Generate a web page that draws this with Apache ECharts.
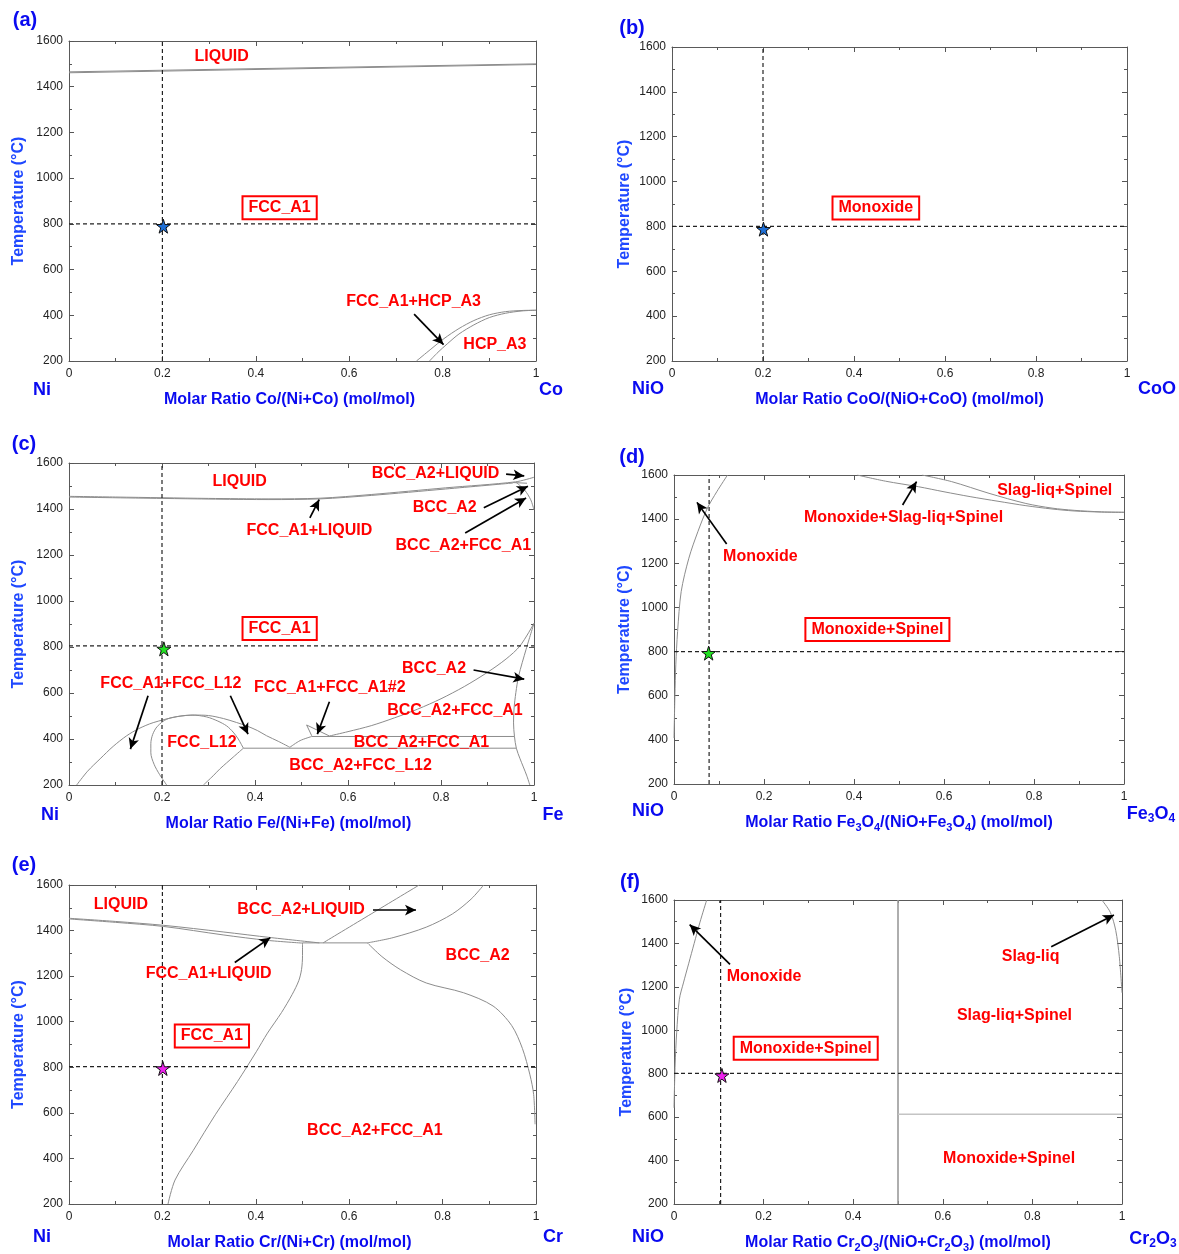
<!DOCTYPE html>
<html><head><meta charset="utf-8">
<script src="https://cdn.jsdelivr.net/npm/echarts@6/dist/echarts.min.js"></script>
<style>html,body{margin:0;padding:0;background:#fff}#chart{width:1179px;height:1254px}</style>
</head><body><div id="chart"></div>
<script>
// ---------------- DATA ----------------
const xTickStep = 0.2;
const tempMin = 200, tempMax = 1600, tempStep = 200;

// (a) Ni-Co
const aLiquidus = [[0,1465],[1,1500]];
const aSolidus = [[0,1461],[1,1497]];
const aHcpUpper = [[0.744,200],[0.775,252],[0.803,298],[0.835,342],[0.867,377],[0.9,402],[0.935,416],[0.97,421],[1,422]];
const aHcpLower = [[0.772,200],[0.79,238],[0.81,275],[0.835,318],[0.867,358],[0.9,390],[0.935,409],[0.97,419],[1,422]];
const aLabels = [['LIQUID',0.327,1530],['FCC_A1+HCP_A3',0.738,462],['HCP_A3',0.912,270]];
const aBoxed = [['FCC_A1',0.451,870]];
const aArrows = [[0.739,405,0.802,272]];
const aStar = [0.202,790];
const aCross = [0.2,800];

// (b) NiO-CoO
const bLabels = [];
const bBoxed = [['Monoxide',0.448,882]];
const bArrows = [];
const bStar = [0.201,788];
const bCross = [0.2,800];

// (c) Ni-Fe
const cLiquidus = [[0,1455],[0.1,1452],[0.2,1449],[0.3,1446],[0.43,1444],[0.54,1447],[0.65,1463],[0.81,1492],[0.96,1518],[1,1538]];
const cSolidus = [[0,1452],[0.2,1446],[0.43,1441],[0.54,1444],[0.65,1459],[0.81,1487],[0.955,1513]];
const cPeritectic = [[0.955,1515],[0.985,1512]];
const cDelta = [[0.962,1515],[0.98,1482],[0.993,1440],[1,1396]];
const cAlphaOuter = [[0.56,413],[0.60,432],[0.65,458],[0.70,492],[0.75,530],[0.80,575],[0.85,628],[0.90,690],[0.94,748],[0.97,805],[1,903]];
const cAlphaInner = [[1,903],[0.983,790],[0.967,674],[0.961,602],[0.957,530],[0.956,470],[0.958,411],[0.962,360],[0.97,314],[0.984,243],[0.991,200]];
const cUpperTie = [[0.522,411],[0.958,411]];
const cLowerTie = [[0.375,360],[0.962,360]];
const cDomeOuter = [[0.0165,200],[0.04,260],[0.067,314],[0.095,368],[0.124,414],[0.15,445],[0.181,471],[0.232,497],[0.27,504],[0.3,502],[0.332,489],[0.36,472],[0.382,457],[0.405,437],[0.425,414],[0.45,390],[0.475,364]];
const cDomeInner = [[0.21,200],[0.195,245],[0.183,290],[0.176,340],[0.176,380],[0.18,420],[0.19,455],[0.21,486],[0.24,500],[0.265,504],[0.296,496],[0.32,478],[0.339,457],[0.353,430],[0.364,400],[0.375,360]];
const cL12Lower = [[0.289,200],[0.31,240],[0.325,271],[0.353,321],[0.375,360]];
const cFccRise = [[0.475,364],[0.497,393],[0.522,411]];
const cLens = [[0.522,414],[0.511,461],[0.56,413]];
const cLabels = [
  ['LIQUID',0.367,1518],['BCC_A2+LIQUID',0.788,1553],['BCC_A2',0.808,1405],
  ['FCC_A1+LIQUID',0.517,1308],['BCC_A2+FCC_A1',0.848,1243],['BCC_A2',0.785,706],
  ['FCC_A1+FCC_L12',0.219,640],['FCC_A1+FCC_A1#2',0.561,625],['BCC_A2+FCC_A1',0.83,525],
  ['FCC_L12',0.286,385],['BCC_A2+FCC_A1',0.758,385],['BCC_A2+FCC_L12',0.627,285]];
const cBoxed = [['FCC_A1',0.453,880]];
const cArrows = [[0.94,1552,0.979,1544],[0.892,1405,0.987,1499],[0.852,1296,0.983,1448],[0.518,1361,0.538,1441],
  [0.870,700,0.979,660],[0.170,588,0.132,356],[0.347,588,0.385,421],[0.560,562,0.534,421]];
const cStar = [0.204,792];
const cCross = [0.2,805];

// (d) NiO-Fe3O4
const dMonoxide = [[0,408],[0.002,600],[0.004,740],[0.008,891],[0.016,1072],[0.033,1223],[0.053,1343],[0.074,1449],[0.095,1524],[0.119,1600]];
const dSolidus = [[0.407,1600],[0.47,1572],[0.543,1547],[0.6,1524],[0.658,1502],[0.72,1481],[0.782,1461],[0.84,1446],[0.889,1437],[0.95,1432],[1,1431]];
const dLiquidus = [[0.551,1600],[0.617,1570],[0.7,1517],[0.782,1471],[0.84,1450],[0.889,1440],[0.95,1433],[1,1431]];
const dLabels = [['Slag-liq+Spinel',0.846,1530],['Monoxide+Slag-liq+Spinel',0.51,1406],['Monoxide',0.192,1232]];
const dBoxed = [['Monoxide+Spinel',0.452,900]];
const dArrows = [[0.508,1464,0.539,1570],[0.117,1287,0.051,1476]];
const dStar = [0.077,793];
const dCross = [0.078,800];

// (e) Ni-Cr
const eLiquidus = [[0,1454],[0.1,1440],[0.203,1423],[0.33,1394],[0.433,1369],[0.536,1346]];
const eSolidus = [[0,1451],[0.1,1436],[0.203,1418],[0.33,1381],[0.425,1357],[0.5,1345]];
const eEutectic = [[0.5,1346],[0.639,1346]];
const eFccSolvus = [[0.5,1346],[0.5,1290],[0.498,1230],[0.492,1180],[0.478,1120],[0.455,1040],[0.425,950],[0.401,868],[0.361,738],[0.314,594],[0.266,435],[0.227,305],[0.212,200]];
const eBccLiqA = [[0.544,1346],[0.647,1473],[0.75,1600]];
const eBccLiqB = [[0.639,1346],[0.694,1369],[0.765,1415],[0.821,1473],[0.861,1538],[0.888,1600]];
const eBccSolvus = [[0.639,1346],[0.67,1286],[0.71,1228],[0.765,1170],[0.845,1127],[0.908,1069],[0.948,983],[0.971,882],[0.987,767],[0.995,680],[0.998,550]];
const eLabels = [['LIQUID',0.111,1515],['BCC_A2+LIQUID',0.497,1493],['FCC_A1+LIQUID',0.299,1212],['BCC_A2',0.875,1290],['BCC_A2+FCC_A1',0.655,522]];
const eBoxed = [['FCC_A1',0.306,937]];
const eArrows = [[0.651,1490,0.743,1490],[0.355,1260,0.431,1369]];
const eStar = [0.201,795];
const eCross = [0.2,803];

// (f) NiO-Cr2O3
const fMonoxide = [[0,643],[0.0025,840],[0.006,991],[0.012,1143],[0.021,1218],[0.033,1309],[0.045,1400],[0.058,1498],[0.073,1600]];
const fDivide = [[0.5,200],[0.5,1600]];
const fTie = [[0.5,613],[1,613]];
const fSlag = [[0.955,1600],[0.974,1543],[0.986,1460],[0.994,1339],[1,1173]];
const fLabels = [['Slag-liq',0.796,1339],['Monoxide',0.201,1246],['Slag-liq+Spinel',0.76,1066],['Monoxide+Spinel',0.748,408]];
const fBoxed = [['Monoxide+Spinel',0.294,917]];
const fArrows = [[0.842,1385,0.982,1531],[0.125,1304,0.035,1487]];
const fStar = [0.107,792];
const fCross = [0.104,802];

// ---------------- STYLE / LAYOUT ----------------
const FONT = 'Arial, "Liberation Sans", Helvetica, sans-serif';
const BLUE = '#0a0af0';
const BLUE2 = '#1f48ff';
const RED = '#ff0000';
const CURVE = '#8c8c8c';
const STAR = 'path://M50,0 L61,35 L98,35 L68,57 L79,91 L50,70 L21,91 L32,57 L2,35 L39,35 Z';
const SUB = {fontSize:11, lineHeight:11, verticalAlign:'bottom', fontWeight:'bold', color:BLUE, fontFamily:FONT};

const panels = [
  {grid:{left:69,top:41,width:467,height:320}, xName:'Molar Ratio Co/(Ni+Co) (mol/mol)', shift:26, yGap:42,
   curves:[[aLiquidus,0],[aSolidus,0],[aHcpUpper,0.3],[aHcpLower,0.3]],
   labels:aLabels, boxed:aBoxed, arrows:aArrows, star:aStar, starColor:'#1f6fd6', cross:aCross},
  {grid:{left:672,top:47,width:455,height:314}, xName:'Molar Ratio CoO/(NiO+CoO) (mol/mol)', shift:0, yGap:39,
   curves:[], labels:bLabels, boxed:bBoxed, arrows:bArrows, star:bStar, starColor:'#1f6fd6', cross:bCross},
  {grid:{left:69,top:463,width:465,height:322}, xName:'Molar Ratio Fe/(Ni+Fe) (mol/mol)', shift:26, yGap:42,
   curves:[[cLiquidus,0.3],[cSolidus,0.3],[cPeritectic,0],[cDelta,0.3],[cAlphaOuter,0.3],[cAlphaInner,0.3],[cUpperTie,0],[cLowerTie,0],
           [cDomeOuter,0.3],[cDomeInner,0.3],[cL12Lower,0.3],[cFccRise,0.3],[cLens,0]],
   labels:cLabels, boxed:cBoxed, arrows:cArrows, star:cStar, starColor:'#22e022', cross:cCross},
  {grid:{left:674,top:475,width:450,height:309}, xName:'Molar Ratio Fe{s|3}O{s|4}/(NiO+Fe{s|3}O{s|4}) (mol/mol)', shift:0, yGap:41,
   curves:[[dMonoxide,0.3],[dSolidus,0.3],[dLiquidus,0.3]],
   labels:dLabels, boxed:dBoxed, arrows:dArrows, star:dStar, starColor:'#22e022', cross:dCross},
  {grid:{left:69,top:885,width:467,height:323}, xName:'Molar Ratio Cr/(Ni+Cr) (mol/mol)', shift:26, yGap:42,
   curves:[[eLiquidus,0.3],[eSolidus,0.3],[eEutectic,0],[eFccSolvus,0.3],[eBccLiqA,0.3],[eBccLiqB,0.3],[eBccSolvus,0.3]],
   labels:eLabels, boxed:eBoxed, arrows:eArrows, star:eStar, starColor:'#ee22ee', cross:eCross},
  {grid:{left:674,top:900,width:448,height:306}, xName:'Molar Ratio Cr{s|2}O{s|3}/(NiO+Cr{s|2}O{s|3}) (mol/mol)', shift:0, yGap:39,
   curves:[[fMonoxide,0.3],[fSlag,0.3]], special:[[fDivide,'#9a9a9a',1.6],[fTie,'#c4c4c4',1.6]],
   labels:fLabels, boxed:fBoxed, arrows:fArrows, star:fStar, starColor:'#ee22ee', cross:fCross}
];

const texts = [
  ['(a)',25,20,20],['(b)',632,28,20],['(c)',24,444,20],['(d)',632,457,20],['(e)',24,865,20],['(f)',630,882,20],
  ['Ni',42,390,18],['Co',551,390,18],['NiO',648,389,18],['CoO',1157,389,18],
  ['Ni',50,815,18],['Fe',553,815,18],['NiO',648,811,18],['Fe{s|3}O{s|4}',1151,814,18],
  ['Ni',42,1237,18],['Cr',553,1237,18],['NiO',648,1237,18],['Cr{s|2}O{s|3}',1153,1239,18]
];

// ---------------- BUILD ----------------
const grid = [], xAxis = [], yAxis = [], series = [];
const axisLineStyle = {color:'#5a5a5a', width:1};
const tickStyle = {color:'#555', width:1};

panels.forEach((P, i) => {
  grid.push(Object.assign({containLabel:false}, P.grid));
  const baseX = {type:'value', gridIndex:i, min:0, max:1, interval:xTickStep,
    axisLine:{show:true, onZero:false, lineStyle:axisLineStyle},
    axisTick:{show:true, inside:true, length:5, lineStyle:tickStyle},
    minorTick:{show:true, splitNumber:2, length:3, lineStyle:tickStyle},
    splitLine:{show:false}, minorSplitLine:{show:false}};
  xAxis.push(Object.assign({}, baseX, {position:'bottom',
    axisLabel:{show:true, fontSize:12, color:'#222', margin:7, fontFamily:FONT, formatter:v => String(+v.toFixed(1))},
    name:P.xName, nameLocation:'middle', nameGap:29,
    nameTextStyle:{fontSize:16, fontWeight:'bold', color:BLUE, fontFamily:FONT, lineHeight:20,
      padding:[0,P.shift,0,0], rich:{s:SUB}}}));
  xAxis.push(Object.assign({}, baseX, {position:'top', axisLabel:{show:false}}));
  const baseY = {type:'value', gridIndex:i, min:tempMin, max:tempMax, interval:tempStep,
    axisLine:{show:true, onZero:false, lineStyle:axisLineStyle},
    axisTick:{show:true, inside:true, length:5, lineStyle:tickStyle},
    minorTick:{show:true, splitNumber:2, length:3, lineStyle:tickStyle},
    splitLine:{show:false}, minorSplitLine:{show:false}};
  yAxis.push(Object.assign({}, baseY, {position:'left',
    axisLabel:{show:true, fontSize:12, color:'#222', margin:6, fontFamily:FONT, formatter:v => String(v)},
    name:'Temperature (°C)', nameLocation:'middle', nameGap:P.yGap,
    nameTextStyle:{fontSize:16, fontWeight:'bold', color:BLUE2, fontFamily:FONT}}));
  yAxis.push(Object.assign({}, baseY, {position:'right', axisLabel:{show:false}}));

  const xi = 2*i, yi = 2*i;
  P.curves.forEach(([d, sm]) => series.push({type:'line', xAxisIndex:xi, yAxisIndex:yi, data:d,
    symbol:'none', smooth:sm, silent:true, z:2, lineStyle:{color:CURVE, width:1}}));
  (P.special||[]).forEach(([d, col, w]) => series.push({type:'line', xAxisIndex:xi, yAxisIndex:yi, data:d,
    symbol:'none', silent:true, z:2, lineStyle:{color:col, width:w}}));
  // dashed crosshair
  series.push({type:'line', xAxisIndex:xi, yAxisIndex:yi, data:[[P.cross[0],tempMin],[P.cross[0],tempMax]],
    symbol:'none', silent:true, z:3, lineStyle:{color:'#222', width:1.2, type:[4,3]}});
  series.push({type:'line', xAxisIndex:xi, yAxisIndex:yi, data:[[0,P.cross[1]],[1,P.cross[1]]],
    symbol:'none', silent:true, z:3, lineStyle:{color:'#222', width:1.2, type:[4,3]}});
  // labels + arrows
  const lab = P.labels.map(l => ({name:l[0], value:[l[1],l[2]]}))
    .concat(P.boxed.map(b => ({name:b[0], value:[b[1],b[2]],
      label:{borderColor:RED, borderWidth:2, padding:[3,5,2,5], backgroundColor:'#fff'}})));
  series.push({type:'scatter', xAxisIndex:xi, yAxisIndex:yi, data:lab, symbolSize:1, silent:true, z:5,
    itemStyle:{color:'rgba(0,0,0,0)', opacity:1},
    label:{show:true, position:'inside', formatter:'{b}', color:RED, opacity:1, fontSize:16, fontWeight:'bold', fontFamily:FONT},
    markLine:{silent:true, symbol:['none','arrow'], symbolSize:[8,11], animation:false, precision:4,
      lineStyle:{color:'#000', width:1.7, type:'solid', opacity:1}, label:{show:false}, emphasis:{disabled:true},
      data:P.arrows.map(a => [{coord:[a[0],a[1]]},{coord:[a[2],a[3]]}])}});
  // star
  series.push({type:'scatter', xAxisIndex:xi, yAxisIndex:yi, data:[P.star], symbol:STAR, symbolSize:14,
    silent:true, z:6, itemStyle:{color:P.starColor, borderColor:'#111', borderWidth:1, opacity:1}});
});

const graphic = texts.map(([t, x, y, fs]) => ({type:'text', x:x, y:y, silent:true,
  style:{text:t, align:'center', verticalAlign:'middle', font:'bold '+fs+'px '+FONT, fill:BLUE, lineHeight:21,
    rich:{s:{fontSize:12, lineHeight:12, verticalAlign:'bottom', fontWeight:'bold', fill:BLUE, fontFamily:FONT}}}}));

const chart = echarts.init(document.getElementById('chart'), null, {renderer:'canvas'});
chart.setOption({animation:false, backgroundColor:'#fff', grid, xAxis, yAxis, series, graphic});
</script></body></html>
